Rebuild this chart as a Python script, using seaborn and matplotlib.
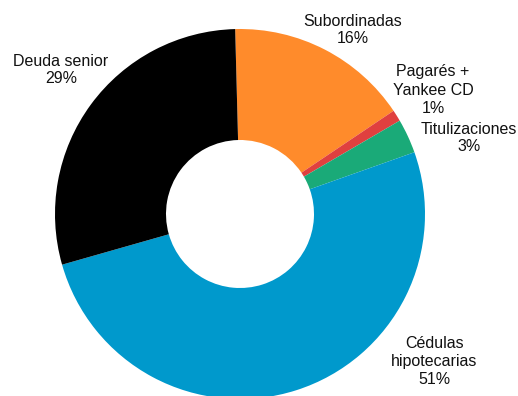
import matplotlib
matplotlib.use("Agg")
import matplotlib.pyplot as plt
import seaborn as sns

# Funding structure breakdown (% of total)
categories = ["Subordinadas", "Pagarés +\nYankee CD", "Titulizaciones",
              "Cédulas\nhipotecarias", "Deuda senior"]
shares = [16, 1, 3, 51, 29]
colors = ["#FF8B2B", "#E0403F", "#1AAA78", "#0099CC", "#000000"]

# Label block centres (data units, pie radius = 1)
label_pos = [(0.611, 0.995), (1.043, 0.670), (1.238, 0.411),
             (1.049, -0.795), (-0.968, 0.778)]
label_spacing = [1.1, 1.3, 1.2, 1.25, 1.2]

sns.set_theme(style="white")
plt.rcParams["font.family"] = ["Liberation Sans", "DejaVu Sans"]

fig = plt.figure(figsize=(5.18, 3.96), dpi=100)
ax = fig.add_axes([0, 0, 1, 1])

ax.pie(shares, colors=colors, startangle=91.5, counterclock=False,
       radius=1.0, center=(0, 0),
       wedgeprops=dict(width=1.0 - 0.40, linewidth=0))

for name, val, (x, y), ls in zip(categories, shares, label_pos, label_spacing):
    ax.text(x, y, f"{name}\n{val}%", ha="center", va="center",
            fontsize=11.5, color="#111111", linespacing=ls)

ax.set_xlim(-240 / 185, 278 / 185)
ax.set_ylim(-182 / 185, 214 / 185)
ax.set_aspect("auto")
ax.axis("off")

fig.savefig("out.png", dpi=100)
